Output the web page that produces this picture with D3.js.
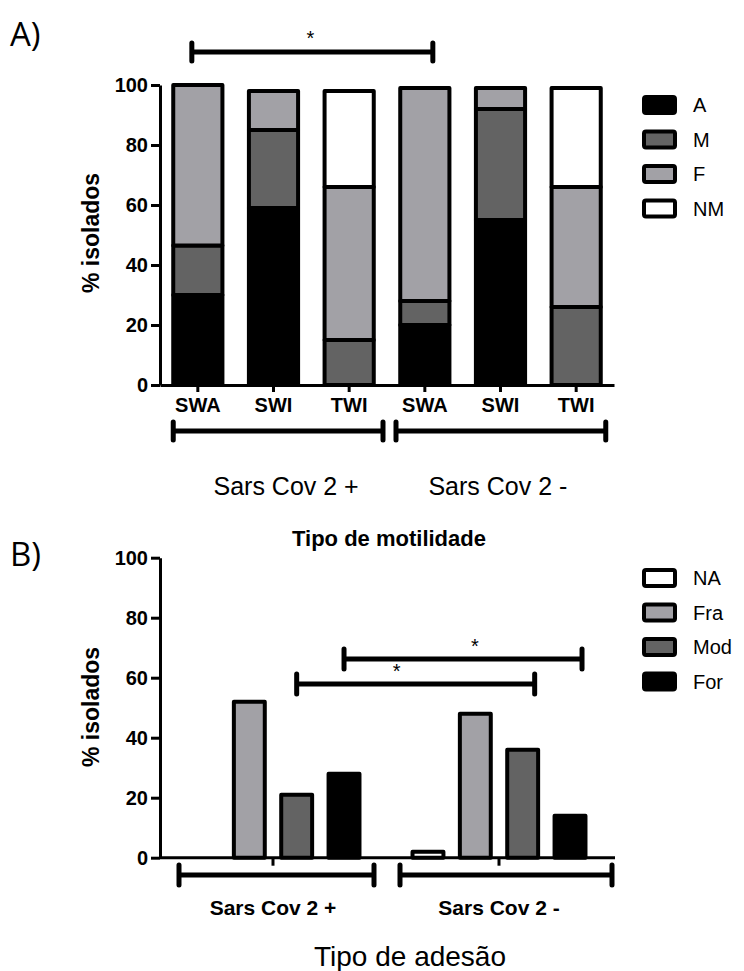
<!DOCTYPE html>
<html>
<head>
<meta charset="utf-8">
<script src="https://cdn.jsdelivr.net/npm/d3@7"></script>
<style>
  body { margin: 0; background: #fff; }
  svg { display: block; }
</style>
</head>
<body>
<div id="chart"></div>
<script>
// Panel A: motility type, stacked %
const motilityKeys = ["A", "M", "F", "NM"];
const motilityCats = ["SWA", "SWI", "TWI", "SWA", "SWI", "TWI"];
const motilityA  = [30, 59, 0, 20, 55, 0];
const motilityM  = [16.5, 26, 15, 8, 37, 26];
const motilityF  = [53.5, 13, 51, 71, 7, 40];
const motilityNM = [0, 0, 32, 0, 0, 33];
const cohorts = ["Sars Cov 2 +", "Sars Cov 2 -"];

// Panel B: adhesion type, grouped %
const adhesionKeys = ["NA", "Fra", "Mod", "For"];
const adhesionPos = [0, 52, 21, 28];
const adhesionNeg = [2, 48, 36, 14];

const yTicks = [0, 20, 40, 60, 80, 100];

const W = 744, H = 971;
const font = "'Liberation Sans', Arial, sans-serif";
const fills = { A: "#000000", M: "#636363", F: "#a2a1a6", NM: "#ffffff",
                NA: "#ffffff", Fra: "#a2a1a6", Mod: "#636363", For: "#000000" };

const svg = d3.select("#chart").append("svg")
    .attr("width", W)
    .attr("height", H)
    .style("font-family", font);

function styleAxis(g) {
  g.selectAll(".domain").attr("stroke", "#000").attr("stroke-width", 3);
  g.selectAll(".tick line").attr("stroke", "#000").attr("stroke-width", 3);
  g.selectAll(".tick text").attr("fill", "#000").attr("font-family", font).attr("font-weight", "bold");
}

function bracket(g, x1, x2, y, cap) {
  g.append("path")
    .attr("d", `M${x1},${y}H${x2}M${x1},${y - cap}V${y + cap}M${x2},${y - cap}V${y + cap}`)
    .attr("fill", "none")
    .attr("stroke", "#000")
    .attr("stroke-width", 5)
    .attr("stroke-linecap", "round");
}

function legend(g, keys, x, y0, step) {
  keys.forEach((k, i) => {
    const cy = y0 + i * step;
    g.append("rect")
      .attr("x", x).attr("y", cy - 8)
      .attr("width", 31).attr("height", 16)
      .attr("rx", 2)
      .attr("fill", fills[k])
      .attr("stroke", "#000").attr("stroke-width", 4);
    g.append("text")
      .attr("x", x + 49).attr("y", cy + 7)
      .attr("font-size", 20)
      .text(k);
  });
}

function yTitle(g, cy) {
  g.append("text")
    .attr("transform", `translate(99,${cy}) rotate(-90)`)
    .attr("text-anchor", "middle")
    .attr("font-size", 23)
    .attr("font-weight", "bold")
    .text("% isolados");
}

/* ---------- Panel A ---------- */
const gA = svg.append("g");

const yA = d3.scaleLinear().domain([0, 100]).range([385, 85]);
const xA = d3.scaleBand()
    .domain(d3.range(motilityCats.length))
    .range([160, 614])
    .paddingInner(0.35)
    .paddingOuter(0.175);

const tableA = motilityCats.map((c, i) => ({
  i, A: motilityA[i], M: motilityM[i], F: motilityF[i], NM: motilityNM[i]
}));
const stackA = d3.stack().keys(motilityKeys)(tableA);

gA.append("g")
  .selectAll("g")
  .data(stackA)
  .join("g")
    .attr("fill", d => fills[d.key])
  .selectAll("rect")
  .data(d => d.filter(s => s[1] - s[0] > 0))
  .join("rect")
    .attr("x", d => xA(d.data.i))
    .attr("y", d => yA(d[1]))
    .attr("width", xA.bandwidth())
    .attr("height", d => yA(d[0]) - yA(d[1]))
    .attr("stroke", "#000")
    .attr("stroke-width", 4)
    .attr("stroke-linejoin", "round");

gA.append("g")
    .attr("transform", "translate(160,0)")
    .call(d3.axisLeft(yA).tickValues(yTicks).tickSize(9).tickSizeOuter(0).tickPadding(3))
    .call(g => g.selectAll(".tick text").attr("font-size", 20))
    .call(styleAxis);

gA.append("g")
    .attr("transform", "translate(0,385)")
    .call(d3.axisBottom(xA).tickSize(7).tickSizeOuter(0).tickPadding(6)
      .tickFormat(i => motilityCats[i]))
    .call(g => g.selectAll(".tick text").attr("font-size", 20))
    .call(styleAxis);

yTitle(gA, 233);
legend(gA, motilityKeys, 644, 105, 34.5);

// cohort brackets under the x axis
const gapA = (xA(2) + xA.bandwidth() + xA(3)) / 2;
bracket(gA, xA(0), gapA - 4, 431, 9);
bracket(gA, gapA + 9, xA(5) + xA.bandwidth() + 5, 431, 9);
gA.append("g")
  .selectAll("text")
  .data(cohorts)
  .join("text")
    .attr("x", (d, i) => i === 0 ? (xA(0) + gapA) / 2 + 6 : (gapA + xA(5) + xA.bandwidth()) / 2 + 4)
    .attr("y", 495)
    .attr("text-anchor", "middle")
    .attr("font-size", 25)
    .text(d => d);

// significance SWA(+) vs SWA(-)
const sA1 = xA(0) + xA.bandwidth() / 2 - 6, sA2 = xA(3) + xA.bandwidth() / 2 + 8;
bracket(gA, sA1, sA2, 52, 9);
gA.append("text")
  .attr("x", (sA1 + sA2) / 2 - 2).attr("y", 45)
  .attr("text-anchor", "middle").attr("font-size", 20)
  .text("*");

gA.append("text")
  .attr("x", 10).attr("y", 46)
  .attr("font-family", "'Open Sans', sans-serif")
  .attr("font-size", 33)
  .text("A)");

/* ---------- Panel B ---------- */
const gB = svg.append("g");

const yB = d3.scaleLinear().domain([0, 100]).range([857.7, 557.7]);
const x0 = d3.scaleBand().domain(cohorts).range([160, 612]);
const x1 = d3.scaleBand().domain(adhesionKeys).range([0, x0.bandwidth()])
    .paddingInner(0.347).paddingOuter(0.56);

const tableB = cohorts.map((c, i) => ({
  cohort: c,
  values: adhesionKeys.map((k, j) => ({ key: k, value: (i === 0 ? adhesionPos : adhesionNeg)[j] }))
}));

gB.append("g")
  .selectAll("g")
  .data(tableB)
  .join("g")
    .attr("transform", d => `translate(${x0(d.cohort)},0)`)
  .selectAll("rect")
  .data(d => d.values.filter(v => v.value > 0))
  .join("rect")
    .attr("x", d => x1(d.key))
    .attr("y", d => yB(d.value))
    .attr("width", x1.bandwidth())
    .attr("height", d => yB(0) - yB(d.value))
    .attr("fill", d => fills[d.key])
    .attr("stroke", "#000")
    .attr("stroke-width", 4)
    .attr("stroke-linejoin", "round");

gB.append("g")
    .attr("transform", "translate(160,0)")
    .call(d3.axisLeft(yB).tickValues(yTicks).tickSize(9).tickSizeOuter(0).tickPadding(3))
    .call(g => g.selectAll(".tick text").attr("font-size", 20))
    .call(styleAxis);

gB.append("g")
    .attr("transform", `translate(0,${yB(0)})`)
    .call(d3.axisBottom(x0).tickSize(8).tickSizeOuter(0).tickFormat(""))
    .call(g => g.select(".domain").attr("d", "M160,0H615"))
    .call(styleAxis);

yTitle(gB, 707);
legend(gB, adhesionKeys, 644, 578, 34.5);

bracket(gB, 179, x0(cohorts[1]) - 12, 875, 10);
bracket(gB, x0(cohorts[1]) + 14, 612, 875, 10);
gB.append("g")
  .selectAll("text")
  .data(cohorts)
  .join("text")
    .attr("x", d => x0(d) + x0.bandwidth() / 2)
    .attr("y", 915)
    .attr("text-anchor", "middle")
    .attr("font-size", 21)
    .attr("font-weight", "bold")
    .text(d => d);

// significance: Mod(+) vs Mod(-), For(+) vs For(-)
const cB = (c, k) => x0(c) + x1(k) + x1.bandwidth() / 2;
const sigs = [
  { key: "Mod", y: 684, star: 0.42 },
  { key: "For", y: 659, star: 0.55 }
];
sigs.forEach(s => {
  const a = cB(cohorts[0], s.key), b = cB(cohorts[1], s.key) + 12;
  bracket(gB, a, b, s.y, 10);
  gB.append("text")
    .attr("x", a + (b - a) * s.star).attr("y", s.y - 6)
    .attr("text-anchor", "middle").attr("font-size", 20)
    .text("*");
});

gB.append("text")
  .attr("x", 389).attr("y", 546)
  .attr("text-anchor", "middle")
  .attr("font-size", 22)
  .attr("font-weight", "bold")
  .text("Tipo de motilidade");

gB.append("text")
  .attr("x", 410).attr("y", 966)
  .attr("text-anchor", "middle")
  .attr("font-size", 28)
  .text("Tipo de adesão");

gB.append("text")
  .attr("x", 10).attr("y", 566)
  .attr("font-family", "'Open Sans', sans-serif")
  .attr("font-size", 33)
  .text("B)");
</script>
</body>
</html>
